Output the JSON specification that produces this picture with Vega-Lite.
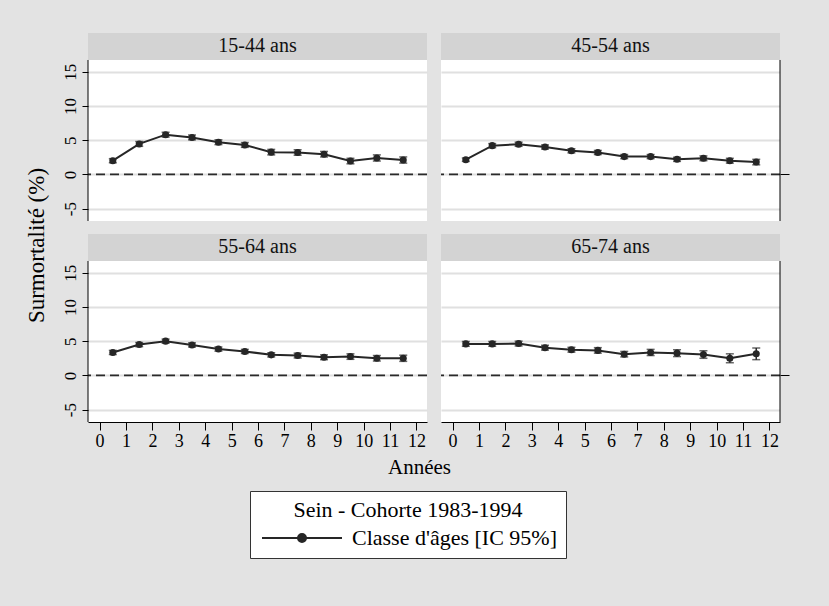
{
  "$schema": "https://vega.github.io/schema/vega-lite/v6.json",
  "background": "#e3e3e3",
  "padding": {"left": 25, "top": 33, "right": 50, "bottom": 55},
  "data": {"values": [
    {"panel": "15-44 ans", "x": 0.5, "y": 2.0, "lo": 1.7, "hi": 2.3},
    {"panel": "15-44 ans", "x": 1.5, "y": 4.45, "lo": 4.1, "hi": 4.8},
    {"panel": "15-44 ans", "x": 2.5, "y": 5.8, "lo": 5.45, "hi": 6.15},
    {"panel": "15-44 ans", "x": 3.5, "y": 5.4, "lo": 5.05, "hi": 5.75},
    {"panel": "15-44 ans", "x": 4.5, "y": 4.7, "lo": 4.35, "hi": 5.05},
    {"panel": "15-44 ans", "x": 5.5, "y": 4.3, "lo": 3.95, "hi": 4.65},
    {"panel": "15-44 ans", "x": 6.5, "y": 3.25, "lo": 2.85, "hi": 3.65},
    {"panel": "15-44 ans", "x": 7.5, "y": 3.2, "lo": 2.8, "hi": 3.6},
    {"panel": "15-44 ans", "x": 8.5, "y": 2.95, "lo": 2.55, "hi": 3.35},
    {"panel": "15-44 ans", "x": 9.5, "y": 1.95, "lo": 1.55, "hi": 2.35},
    {"panel": "15-44 ans", "x": 10.5, "y": 2.4, "lo": 1.95, "hi": 2.85},
    {"panel": "15-44 ans", "x": 11.5, "y": 2.1, "lo": 1.65, "hi": 2.55},
    {"panel": "45-54 ans", "x": 0.5, "y": 2.15, "lo": 1.9, "hi": 2.4},
    {"panel": "45-54 ans", "x": 1.5, "y": 4.2, "lo": 3.9, "hi": 4.5},
    {"panel": "45-54 ans", "x": 2.5, "y": 4.4, "lo": 4.1, "hi": 4.7},
    {"panel": "45-54 ans", "x": 3.5, "y": 4.0, "lo": 3.7, "hi": 4.3},
    {"panel": "45-54 ans", "x": 4.5, "y": 3.45, "lo": 3.15, "hi": 3.75},
    {"panel": "45-54 ans", "x": 5.5, "y": 3.2, "lo": 2.9, "hi": 3.5},
    {"panel": "45-54 ans", "x": 6.5, "y": 2.6, "lo": 2.3, "hi": 2.9},
    {"panel": "45-54 ans", "x": 7.5, "y": 2.6, "lo": 2.3, "hi": 2.9},
    {"panel": "45-54 ans", "x": 8.5, "y": 2.2, "lo": 1.9, "hi": 2.5},
    {"panel": "45-54 ans", "x": 9.5, "y": 2.35, "lo": 2.0, "hi": 2.7},
    {"panel": "45-54 ans", "x": 10.5, "y": 2.0, "lo": 1.65, "hi": 2.35},
    {"panel": "45-54 ans", "x": 11.5, "y": 1.8, "lo": 1.4, "hi": 2.2},
    {"panel": "55-64 ans", "x": 0.5, "y": 3.35, "lo": 3.05, "hi": 3.65},
    {"panel": "55-64 ans", "x": 1.5, "y": 4.5, "lo": 4.2, "hi": 4.8},
    {"panel": "55-64 ans", "x": 2.5, "y": 5.0, "lo": 4.7, "hi": 5.3},
    {"panel": "55-64 ans", "x": 3.5, "y": 4.45, "lo": 4.15, "hi": 4.75},
    {"panel": "55-64 ans", "x": 4.5, "y": 3.85, "lo": 3.55, "hi": 4.15},
    {"panel": "55-64 ans", "x": 5.5, "y": 3.5, "lo": 3.2, "hi": 3.8},
    {"panel": "55-64 ans", "x": 6.5, "y": 3.0, "lo": 2.7, "hi": 3.3},
    {"panel": "55-64 ans", "x": 7.5, "y": 2.9, "lo": 2.55, "hi": 3.25},
    {"panel": "55-64 ans", "x": 8.5, "y": 2.65, "lo": 2.3, "hi": 3.0},
    {"panel": "55-64 ans", "x": 9.5, "y": 2.75, "lo": 2.35, "hi": 3.15},
    {"panel": "55-64 ans", "x": 10.5, "y": 2.5, "lo": 2.1, "hi": 2.9},
    {"panel": "55-64 ans", "x": 11.5, "y": 2.5, "lo": 2.05, "hi": 2.95},
    {"panel": "65-74 ans", "x": 0.5, "y": 4.6, "lo": 4.25, "hi": 4.95},
    {"panel": "65-74 ans", "x": 1.5, "y": 4.6, "lo": 4.25, "hi": 4.95},
    {"panel": "65-74 ans", "x": 2.5, "y": 4.65, "lo": 4.3, "hi": 5.0},
    {"panel": "65-74 ans", "x": 3.5, "y": 4.05, "lo": 3.7, "hi": 4.4},
    {"panel": "65-74 ans", "x": 4.5, "y": 3.75, "lo": 3.4, "hi": 4.1},
    {"panel": "65-74 ans", "x": 5.5, "y": 3.65, "lo": 3.25, "hi": 4.05},
    {"panel": "65-74 ans", "x": 6.5, "y": 3.1, "lo": 2.7, "hi": 3.5},
    {"panel": "65-74 ans", "x": 7.5, "y": 3.35, "lo": 2.9, "hi": 3.8},
    {"panel": "65-74 ans", "x": 8.5, "y": 3.25, "lo": 2.75, "hi": 3.75},
    {"panel": "65-74 ans", "x": 9.5, "y": 3.05, "lo": 2.5, "hi": 3.6},
    {"panel": "65-74 ans", "x": 10.5, "y": 2.5, "lo": 1.85, "hi": 3.15},
    {"panel": "65-74 ans", "x": 11.5, "y": 3.15, "lo": 2.3, "hi": 4.0}
  ]},
  "bounds": "flush",
  "columns": 2,
  "spacing": {"row": 13, "column": 14},
  "concat": [
    {"width": 339, "height": 188, "view": {"fill": "white", "stroke": null},
     "resolve": {"axis": {"x": "independent", "y": "independent"}},
     "layer": [
       {"data": {"values": [{"label": "15-44 ans"}]}, "mark": {"type": "rect", "color": "#d3d3d3"},
        "encoding": {"x": {"datum": -0.44, "type": "quantitative", "scale": {"domain": [-0.44, 12.4], "nice": false, "zero": false}, "axis": null},
          "x2": {"datum": 12.4},
          "y": {"datum": 16.7, "type": "quantitative", "scale": {"domain": [-6.8, 20.64], "nice": false, "zero": false}, "axis": null},
          "y2": {"datum": 20.64}}},
       {"data": {"values": [{"label": "15-44 ans"}]}, "mark": {"type": "text", "fontSize": 20, "baseline": "middle", "color": "#111"},
        "encoding": {"x": {"datum": 5.98, "type": "quantitative", "axis": null}, "y": {"datum": 18.67, "type": "quantitative", "axis": null},
          "text": {"field": "label"}}},
       {"data": {"values": [{}]}, "mark": {"type": "rule", "strokeDash": [9, 5], "color": "#2a2a2a", "strokeWidth": 1.8},
        "encoding": {"y": {"datum": 0, "type": "quantitative",
          "axis": {"orient": "left", "values": [-5, 0, 5, 10, 15], "labelExpr": "datum.value", "domain": false, "labelAngle": -90, "labelFontSize": 17, "tickSize": 6, "labelPadding": 3,
            "tickColor": "#000", "labelColor": "#000", "grid": true, "gridColor": "#e0e0e0", "gridWidth": 2,
            "title": "Surmortalité (%)", "titleFontSize": 23, "titleFontWeight": "normal", "titleColor": "#000",
            "titleX": -52, "titleY": 212, "titleBaseline": "middle", "titleAlign": "center", "titleAngle": 270}}}},
       {"data": {"values": [{}]}, "mark": {"type": "rule", "color": "#000", "strokeWidth": 1},
        "encoding": {"x": {"datum": -0.44, "type": "quantitative", "axis": null},
          "y": {"datum": -6.8, "type": "quantitative", "axis": null}, "y2": {"datum": 16.7}}},
       {"transform": [{"filter": "datum.panel === '15-44 ans'"}],
        "mark": {"type": "errorbar", "ticks": {"size": 8, "strokeWidth": 2.5}, "thickness": 1.5, "color": "#262626"},
        "encoding": {"x": {"field": "x", "type": "quantitative", "axis": null},
          "y": {"field": "lo", "type": "quantitative", "axis": null}, "y2": {"field": "hi"}}},
       {"transform": [{"filter": "datum.panel === '15-44 ans'"}],
        "mark": {"type": "line", "strokeWidth": 2, "point": {"filled": true, "size": 50}},
        "encoding": {"x": {"field": "x", "type": "quantitative", "axis": null},
          "y": {"field": "y", "type": "quantitative", "axis": null},
          "color": {"datum": "Classe d'âges [IC 95%]", "scale": {"range": ["#262626"]},
            "legend": {"orient": "none", "legendX": 162, "legendY": 458, "title": "Sein - Cohorte 1983-1994",
              "titleFontSize": 22, "titleFontWeight": "normal", "titleColor": "#000", "titleAnchor": "middle", "titleAlign": "center", "titlePadding": 5, "titleLimit": 500,
              "labelFontSize": 22, "labelColor": "#000", "labelOffset": 39, "labelLimit": 500, "padding": 9,
              "labelExpr": "datum.label + '\u00a0\u00a0\u00a0\u00a0\u00a0\u00a0\u00a0\u00a0\u00a0'",
              "strokeColor": "#333", "fillColor": "white",
              "symbolType": "M-5,0H5M-0.5,0a0.5,0.5 0 1,0 1,0a0.5,0.5 0 1,0 -1,0",
              "symbolSize": 256, "symbolOffset": 32, "symbolStrokeWidth": 2}}}}
     ]},
    {"width": 339, "height": 188, "view": {"fill": "white", "stroke": null},
     "resolve": {"axis": {"x": "independent", "y": "independent"}},
     "layer": [
       {"data": {"values": [{"label": "45-54 ans"}]}, "mark": {"type": "rect", "color": "#d3d3d3"},
        "encoding": {"x": {"datum": -0.44, "type": "quantitative", "scale": {"domain": [-0.44, 12.4], "nice": false, "zero": false}, "axis": null},
          "x2": {"datum": 12.4},
          "y": {"datum": 16.7, "type": "quantitative", "scale": {"domain": [-6.8, 20.64], "nice": false, "zero": false}, "axis": null},
          "y2": {"datum": 20.64}}},
       {"data": {"values": [{"label": "45-54 ans"}]}, "mark": {"type": "text", "fontSize": 20, "baseline": "middle", "color": "#111"},
        "encoding": {"x": {"datum": 5.98, "type": "quantitative", "axis": null}, "y": {"datum": 18.67, "type": "quantitative", "axis": null},
          "text": {"field": "label"}}},
       {"data": {"values": [{}]}, "mark": {"type": "rule", "strokeDash": [9, 5], "color": "#2a2a2a", "strokeWidth": 1.8},
        "encoding": {"y": {"datum": 0, "type": "quantitative",
          "axis": {"orient": "left", "values": [-5, 0, 5, 10, 15], "domain": false, "ticks": false, "labels": false,
            "grid": true, "gridColor": "#e0e0e0", "gridWidth": 2, "title": null}}}},
       {"data": {"values": [{}]}, "mark": {"type": "rule", "color": "#000", "strokeWidth": 1},
        "encoding": {"x": {"datum": 12.4, "type": "quantitative", "axis": null},
          "y": {"datum": -6.8, "type": "quantitative",
            "axis": {"orient": "right", "values": [0], "labels": false, "domain": false, "grid": false, "title": null, "tickSize": 9, "tickColor": "#000"}},
          "y2": {"datum": 16.7}}},
       {"transform": [{"filter": "datum.panel === '45-54 ans'"}],
        "mark": {"type": "errorbar", "ticks": {"size": 8, "strokeWidth": 2.5}, "thickness": 1.5, "color": "#262626"},
        "encoding": {"x": {"field": "x", "type": "quantitative", "axis": null},
          "y": {"field": "lo", "type": "quantitative", "axis": null}, "y2": {"field": "hi"}}},
       {"transform": [{"filter": "datum.panel === '45-54 ans'"}],
        "mark": {"type": "line", "strokeWidth": 2, "color": "#262626", "point": {"filled": true, "size": 50, "color": "#262626"}},
        "encoding": {"x": {"field": "x", "type": "quantitative", "axis": null},
          "y": {"field": "y", "type": "quantitative", "axis": null}}}
     ]},
    {"width": 339, "height": 188, "view": {"fill": "white", "stroke": null},
     "resolve": {"axis": {"x": "independent", "y": "independent"}},
     "layer": [
       {"data": {"values": [{"label": "55-64 ans"}]}, "mark": {"type": "rect", "color": "#d3d3d3"},
        "encoding": {"x": {"datum": -0.44, "type": "quantitative", "scale": {"domain": [-0.44, 12.4], "nice": false, "zero": false}, "axis": null},
          "x2": {"datum": 12.4},
          "y": {"datum": 16.7, "type": "quantitative", "scale": {"domain": [-6.8, 20.64], "nice": false, "zero": false}, "axis": null},
          "y2": {"datum": 20.64}}},
       {"data": {"values": [{"label": "55-64 ans"}]}, "mark": {"type": "text", "fontSize": 20, "baseline": "middle", "color": "#111"},
        "encoding": {"x": {"datum": 5.98, "type": "quantitative", "axis": null}, "y": {"datum": 18.67, "type": "quantitative", "axis": null},
          "text": {"field": "label"}}},
       {"data": {"values": [{}]}, "mark": {"type": "rule", "strokeDash": [9, 5], "color": "#2a2a2a", "strokeWidth": 1.8},
        "encoding": {"y": {"datum": 0, "type": "quantitative",
          "axis": {"orient": "left", "values": [-5, 0, 5, 10, 15], "labelExpr": "datum.value", "domain": false, "labelAngle": -90, "labelFontSize": 17, "tickSize": 6, "labelPadding": 3,
            "tickColor": "#000", "labelColor": "#000", "grid": true, "gridColor": "#e0e0e0", "gridWidth": 2, "title": null}}}},
       {"data": {"values": [{}]}, "mark": {"type": "rule", "color": "#000", "strokeWidth": 1},
        "encoding": {"x": {"datum": -0.44, "type": "quantitative", "axis": null},
          "y": {"datum": -6.8, "type": "quantitative", "axis": null}, "y2": {"datum": 16.7}}},
       {"transform": [{"filter": "datum.panel === '55-64 ans'"}],
        "mark": {"type": "errorbar", "ticks": {"size": 8, "strokeWidth": 2.5}, "thickness": 1.5, "color": "#262626"},
        "encoding": {"x": {"field": "x", "type": "quantitative", "axis": null},
          "y": {"field": "lo", "type": "quantitative", "axis": null}, "y2": {"field": "hi"}}},
       {"transform": [{"filter": "datum.panel === '55-64 ans'"}],
        "mark": {"type": "line", "strokeWidth": 2, "color": "#262626", "point": {"filled": true, "size": 50, "color": "#262626"}},
        "encoding": {"x": {"field": "x", "type": "quantitative",
            "axis": {"values": [0, 1, 2, 3, 4, 5, 6, 7, 8, 9, 10, 11, 12], "tickSize": 8, "labelFontSize": 18, "labelPadding": 2,
              "domainColor": "#000", "tickColor": "#000", "labelColor": "#000", "grid": false,
              "title": "Années", "titleFontSize": 21, "titleFontWeight": "normal", "titleColor": "#000",
              "titleX": 331, "titleY": 45, "titleAlign": "center", "titleBaseline": "middle"}},
          "y": {"field": "y", "type": "quantitative", "axis": null}}}
     ]},
    {"width": 339, "height": 188, "view": {"fill": "white", "stroke": null},
     "resolve": {"axis": {"x": "independent", "y": "independent"}},
     "layer": [
       {"data": {"values": [{"label": "65-74 ans"}]}, "mark": {"type": "rect", "color": "#d3d3d3"},
        "encoding": {"x": {"datum": -0.44, "type": "quantitative", "scale": {"domain": [-0.44, 12.4], "nice": false, "zero": false}, "axis": null},
          "x2": {"datum": 12.4},
          "y": {"datum": 16.7, "type": "quantitative", "scale": {"domain": [-6.8, 20.64], "nice": false, "zero": false}, "axis": null},
          "y2": {"datum": 20.64}}},
       {"data": {"values": [{"label": "65-74 ans"}]}, "mark": {"type": "text", "fontSize": 20, "baseline": "middle", "color": "#111"},
        "encoding": {"x": {"datum": 5.98, "type": "quantitative", "axis": null}, "y": {"datum": 18.67, "type": "quantitative", "axis": null},
          "text": {"field": "label"}}},
       {"data": {"values": [{}]}, "mark": {"type": "rule", "strokeDash": [9, 5], "color": "#2a2a2a", "strokeWidth": 1.8},
        "encoding": {"y": {"datum": 0, "type": "quantitative",
          "axis": {"orient": "left", "values": [-5, 0, 5, 10, 15], "domain": false, "ticks": false, "labels": false,
            "grid": true, "gridColor": "#e0e0e0", "gridWidth": 2, "title": null}}}},
       {"data": {"values": [{}]}, "mark": {"type": "rule", "color": "#000", "strokeWidth": 1},
        "encoding": {"x": {"datum": 12.4, "type": "quantitative", "axis": null},
          "y": {"datum": -6.8, "type": "quantitative",
            "axis": {"orient": "right", "values": [0], "labels": false, "domain": false, "grid": false, "title": null, "tickSize": 9, "tickColor": "#000"}},
          "y2": {"datum": 16.7}}},
       {"transform": [{"filter": "datum.panel === '65-74 ans'"}],
        "mark": {"type": "errorbar", "ticks": {"size": 8, "strokeWidth": 2.5}, "thickness": 1.5, "color": "#262626"},
        "encoding": {"x": {"field": "x", "type": "quantitative", "axis": null},
          "y": {"field": "lo", "type": "quantitative", "axis": null}, "y2": {"field": "hi"}}},
       {"transform": [{"filter": "datum.panel === '65-74 ans'"}],
        "mark": {"type": "line", "strokeWidth": 2, "color": "#262626", "point": {"filled": true, "size": 50, "color": "#262626"}},
        "encoding": {"x": {"field": "x", "type": "quantitative",
            "axis": {"values": [0, 1, 2, 3, 4, 5, 6, 7, 8, 9, 10, 11, 12], "tickSize": 8, "labelFontSize": 18, "labelPadding": 2,
              "domainColor": "#000", "tickColor": "#000", "labelColor": "#000", "grid": false, "title": null}},
          "y": {"field": "y", "type": "quantitative", "axis": null}}}
     ]}
  ],
  "config": {
    "font": "Liberation Serif",
    "view": {"stroke": null}
  }
}
